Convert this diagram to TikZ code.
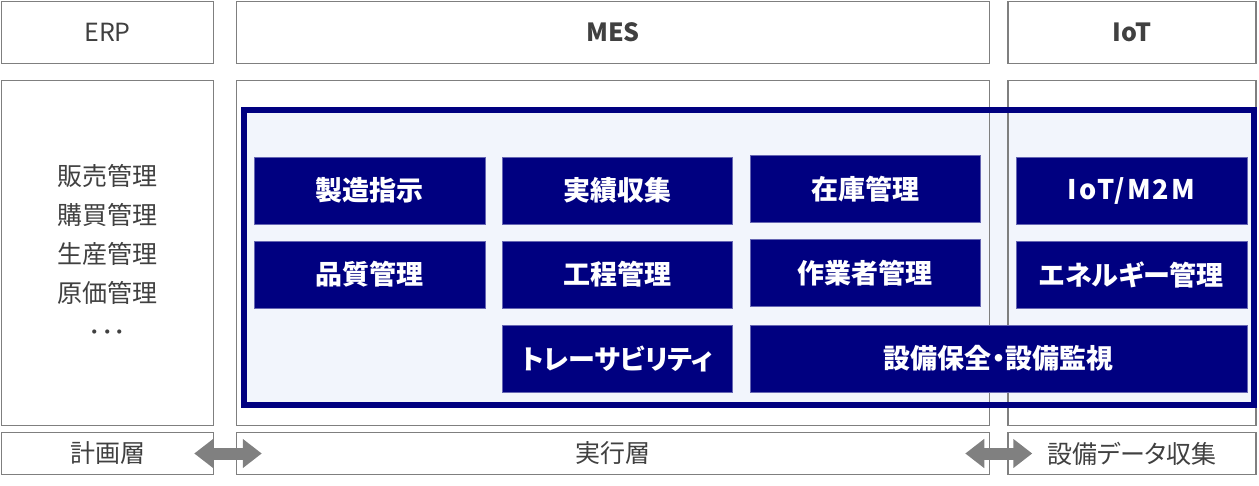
\documentclass[tikz,border=0pt]{standalone}
\usepackage{fontspec}
\setmainfont{Noto Sans CJK JP}
\usetikzlibrary{arrows.meta}
\definecolor{boxnavy}{HTML}{000080}
\definecolor{framefill}{HTML}{F2F5FC}
\definecolor{linegray}{HTML}{7F7F7F}
\definecolor{textgray}{HTML}{404040}
\definecolor{arrowgray}{HTML}{808080}
\tikzset{
  layer/.style={rectangle,draw=linegray,line width=1.5pt,inner sep=0pt,text=textgray,font=\fontsize{25}{30}\selectfont},
  func/.style={rectangle,fill=boxnavy,draw=boxnavy!60!white,line width=0.6pt,minimum height=67pt,text=white,font=\fontsize{27}{30}\selectfont\bfseries},
  kana/.style={font=\fontsize{27}{30}\selectfont\bfseries\addfontfeatures{RawFeature=+palt}},
  sync/.style={draw=arrowgray,line width=12pt,{Triangle[length=19pt,width=28pt]}-{Triangle[length=19pt,width=28pt]}},
}
\begin{document}
\begin{tikzpicture}[x=1pt,y=-1pt]
\useasboundingbox (0,0) rectangle (1259,486);
% light area behind the MES functions
\fill[framefill] (244,110) rectangle (1254,405);

% header row
\node[layer,minimum width=212pt,minimum height=62pt] (erp) at (107.5,32.5) {ERP};
\node[layer,minimum width=753pt,minimum height=62pt,font=\fontsize{25}{30}\selectfont\bfseries] (mes) at (613,32.5) {MES};
\node[layer,minimum width=248pt,minimum height=62pt,font=\fontsize{25}{30}\selectfont\bfseries] (iot) at (1132,32.5) {IoT};

% body row
\node[layer,minimum width=212pt,minimum height=345pt] (erpbody) at (107.5,253) {};
\node[layer,minimum width=753pt,minimum height=345pt] (mesbody) at (613,253) {};
\node[layer,minimum width=248pt,minimum height=345pt] (iotbody) at (1132,253) {};
\node[align=center,text=textgray,font=\fontsize{25}{39}\selectfont] (erplist) at (erpbody.center) {販売管理\\購買管理\\生産管理\\原価管理\\･･･};

% footer row
\node[layer,minimum width=212pt,minimum height=42pt] (plan) at (107.5,453.5) {計画層};
\node[layer,minimum width=753pt,minimum height=42pt] (exec) at (613,453.5) {実行層};
\node[layer,minimum width=248pt,minimum height=42pt,font=\fontsize{25}{30}\selectfont\addfontfeatures{RawFeature=+palt}] (collect) at (1132,453.5) {設備データ収集};

% frame round the MES functions
\draw[boxnavy,line width=6pt] (244,110) rectangle (1254,405);

% functions
\node[func,minimum width=231pt] (order) at (369.5,190.5) {製造指示};
\node[func,minimum width=230pt] (result) at (617,190.5) {実績収集};
\node[func,minimum width=230pt] (stock) at (865,189) {在庫管理};
\node[func,minimum width=231pt,font=\fontsize{27}{30}\selectfont\bfseries\addfontfeatures{LetterSpace=8}] (m2m) at (1131.5,190.5) {IoT/M2M};

\node[func,minimum width=231pt] (quality) at (369.5,274.5) {品質管理};
\node[func,minimum width=230pt] (process) at (617,274.5) {工程管理};
\node[func,minimum width=230pt] (worker) at (865,273) {作業者管理};
\node[func,kana,minimum width=231pt] (energy) at (1131.5,274.5) {エネルギー管理};

\node[func,kana,minimum width=230pt] (trace) at (617,358.5) {トレーサビリティ};
\node[func,kana,minimum width=497pt] (maint) at (998.5,358.5) {設備保全・設備監視};

% data exchange between layers
\draw[sync,shorten <=-20pt,shorten >=-26pt] (plan.east) -- (exec.west);
\draw[sync,shorten <=-25pt,shorten >=-25pt] (exec.east) -- (collect.west);
\end{tikzpicture}
\end{document}
